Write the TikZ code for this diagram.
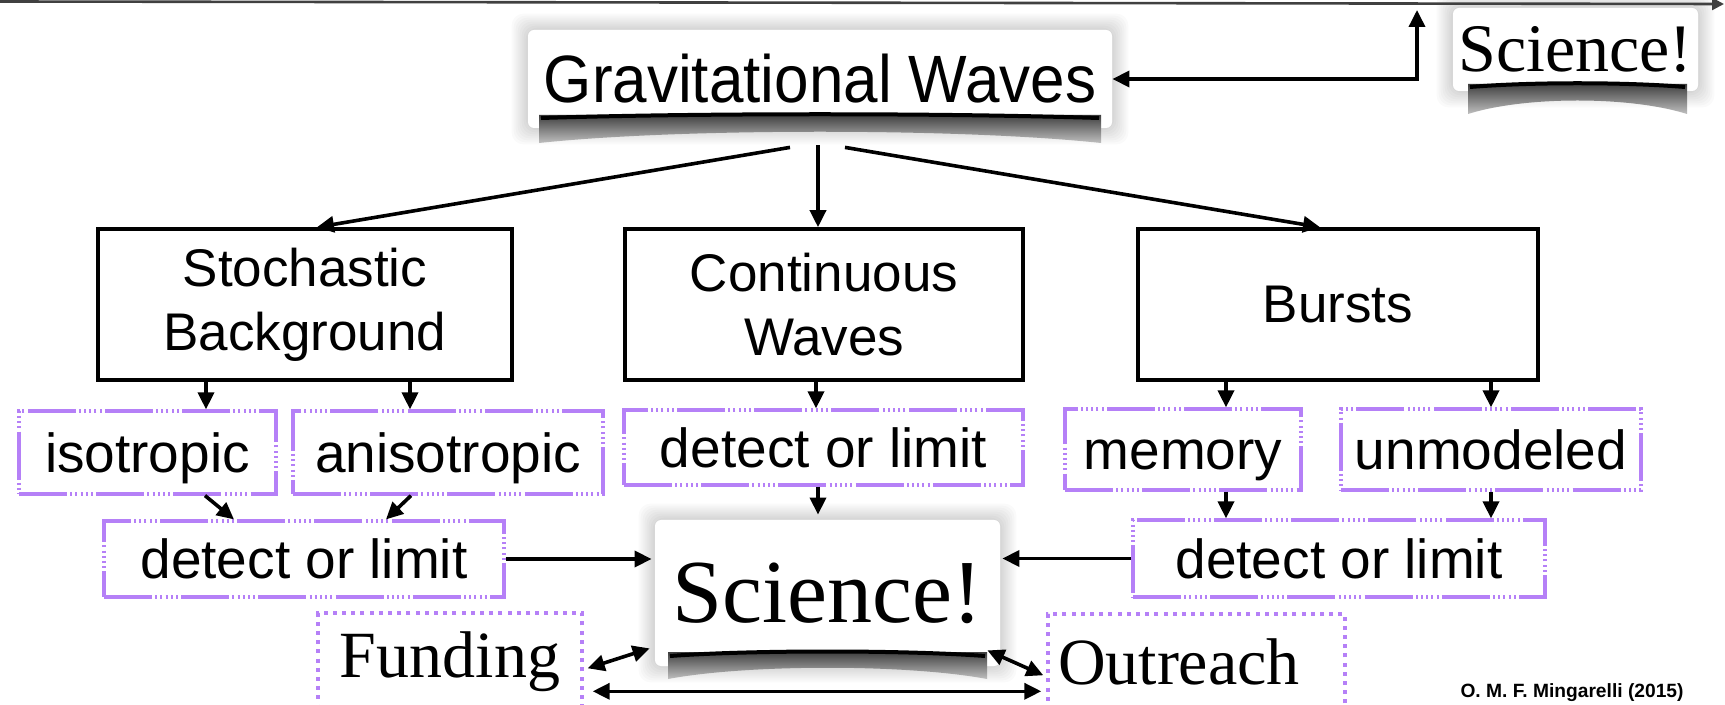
\documentclass[tikz,border=0pt]{standalone}
\usepackage{fontspec}
\setmainfont{Liberation Serif}
\newfontfamily\sansf{Liberation Sans}
\usetikzlibrary{arrows.meta,calc,backgrounds}
\definecolor{vio}{RGB}{181,128,247}
\begin{document}
\begin{tikzpicture}[x=0.5pt,y=-0.5pt,
  mainbox/.style={draw,line width=1.8pt,minimum height=75.5pt,inner sep=0pt,align=center,
    font=\sansf\fontsize{26.5}{32}\selectfont},
  subbox/.style={draw=vio,line width=1.6pt,inner sep=0pt,text height=19.7pt,text depth=0pt,
    dash pattern=on 24pt off 1.6pt on 1pt off 1.6pt on 1pt off 1.6pt on 1pt off 1.6pt on 1pt off 1.6pt on 1pt off 1.6pt,
    font=\sansf\fontsize{27.5}{33}\selectfont},
  dotbox/.style={draw=vio,line width=1.7pt,dash pattern=on 2pt off 2.6pt,inner sep=0pt,
    font=\fontsize{33}{40}\selectfont},
  paper/.style={fill=white,rounded corners=3pt,inner sep=0pt},
  arr/.style={line width=1.8pt,-{Triangle[length=8.5pt,width=8pt]}},
  darr/.style={line width=1.8pt,{Triangle[length=8.5pt,width=8pt]}-{Triangle[length=8.5pt,width=8pt]}},
  band/.style={top color=black!75,bottom color=black!25},
  streak/.style={black,line width=2pt}
]
\useasboundingbox (0,0) rectangle (1725,705);
\clip (0,0) rectangle (1725,705);

% paper nodes
\node[paper,minimum width=292pt,minimum height=49pt,font=\sansf\fontsize{31}{37}\selectfont] (gw) at (820,79) {\scalebox{1}[1.08]{Gravitational Waves}};
\node[paper,minimum width=122.5pt,minimum height=41.5pt,font=\fontsize{34}{40}\selectfont] (scitr) at (1575.5,49.5) {Science!};
\node[paper,minimum width=172.5pt,minimum height=73pt,font=\fontsize{45}{52}\selectfont] (sci) at (827.5,593) {Science!};

% main boxes
\node[mainbox,minimum width=207pt] (stoch) at (305,304.5) {Stochastic\\Background};
\node[mainbox,minimum width=199pt] (cont) at (824,304.5) {Continuous\\Waves};
\node[mainbox,minimum width=200pt] (burst) at (1338,304.5) {Bursts};

% sub boxes
\node[subbox,minimum width=128.5pt,minimum height=41.5pt] (iso) at (147.5,452.5) {isotropic};
\node[subbox,minimum width=155pt,minimum height=41.5pt] (aniso) at (448,452.5) {anisotropic};
\node[subbox,minimum width=199.5pt,minimum height=37.5pt] (cdet) at (823.5,447.5) {detect or limit};
\node[subbox,minimum width=118pt,minimum height=40.5pt] (mem) at (1183,449.5) {memory};
\node[subbox,minimum width=150pt,minimum height=40.5pt] (unmod) at (1491,449.5) {unmodeled};
\node[subbox,minimum width=200pt,minimum height=38pt] (ldet) at (304,559) {detect or limit};
\node[subbox,minimum width=206pt,minimum height=38.5pt] (rdet) at (1339,558.5) {detect or limit};

% bottom boxes
\node[dotbox,minimum width=132pt,minimum height=49pt] (fund) at (450,662) {Funding};
\node[dotbox,text width=138.5pt,inner xsep=5pt,align=left,minimum height=48pt] (out) at (1196.5,662) {Outreach};

% credit
\node[font=\sansf\bfseries\fontsize{9.6}{12}\selectfont] (credit) at (1572,693) {O. M. F. Mingarelli (2015)};

% background glow
\begin{scope}[on background layer]
  \fill[white] (0,0) rectangle (1725,705);
  \foreach \n in {gw,sci,scitr}{
    \foreach \d in {1,...,8}{
      \fill[black,opacity=0.02,rounded corners=6pt]
        ([xshift=-\d pt,yshift=-\d pt]\n.south west) rectangle ([xshift=\d pt,yshift=\d pt]\n.north east);
    }
  }
\end{scope}

% curled paper shadows
\shade[band] (539,115) -- (1101,115) -- (1101,143) .. controls (960,128) and (680,128) .. (539,143) -- cycle;
\draw[streak] (541,118) .. controls (700,113) and (940,113) .. (1099,118);
\shade[band] (1468,84) -- (1687,84) -- (1687,114) .. controls (1630,96) and (1525,96) .. (1468,114) -- cycle;
\draw[streak] (1470,87) .. controls (1530,82) and (1625,82) .. (1685,87);
\shade[band] (668,652) -- (987,652) -- (987,679) .. controls (907,664) and (748,664) .. (668,679) -- cycle;
\draw[streak] (670,656) .. controls (750,650) and (905,650) .. (985,656);

% top line (cropped connector)
\coordinate (tl) at (0,1.5);
\coordinate (tre) at (1724,4);
\draw[black!75,line width=1.3pt,-{Triangle[length=6pt,width=6pt]}] (tl) -- (tre);

% connectors
\coordinate (trup) at (1417,10);
\draw[darr] (trup) |- (gw.east);

\draw[arr] ($(gw.south)+(-30,19)$) -- ($(stoch.north)+(12,0)$);
\draw[arr] ($(gw.south)+(-2,17)$) -- ($(cont.north)+(-6,0)$);
\draw[arr] ($(gw.south)+(25,19)$) -- ($(burst.north)+(-18,0)$);

\draw[arr] ($(stoch.south)+(-99,0)$) -- ($(iso.north)+(58.5,0)$);
\draw[arr] ($(stoch.south)+(105,0)$) -- ($(aniso.north)+(-38,0)$);
\draw[arr] ($(cont.south)+(-8,0)$) -- ($(cdet.north)+(-7.5,0)$);
\draw[arr] ($(burst.south)+(-112,0)$) -- ($(mem.north)+(43,0)$);
\draw[arr] ($(burst.south)+(153,0)$) -- (unmod.north);

\draw[arr] ($(iso.south)+(57.5,0)$) -- ($(ldet.north)+(-70,0)$);
\draw[arr] ($(aniso.south)+(-37,0)$) -- ($(ldet.north)+(82,0)$);
\draw[arr] ($(mem.south)+(43,0)$) -- ($(rdet.north)+(-113,0)$);
\draw[arr] (unmod.south) -- ($(rdet.north)+(152,0)$);

\draw[arr] ($(cdet.south)+(-5.5,0)$) -- ($(sci.north)+(-9.5,-5)$);
\draw[arr] (ldet.east) -- ($(ldet.east -| sci.west)+(-3,0)$);
\draw[arr] (rdet.west) -- ($(rdet.west -| sci.east)+(2,0)$);

\draw[darr] ($(fund.north east)+(4,57)$) -- ($(sci.south west)+(-5,-18)$);
\draw[darr] ($(sci.south east)+(-13,-16)$) -- ($(out.north west)+(-3,63)$);
\draw[darr] ($(fund.north east)+(9,80)$) -- ($(out.north west)+(-5,79)$);
\end{tikzpicture}
\end{document}
